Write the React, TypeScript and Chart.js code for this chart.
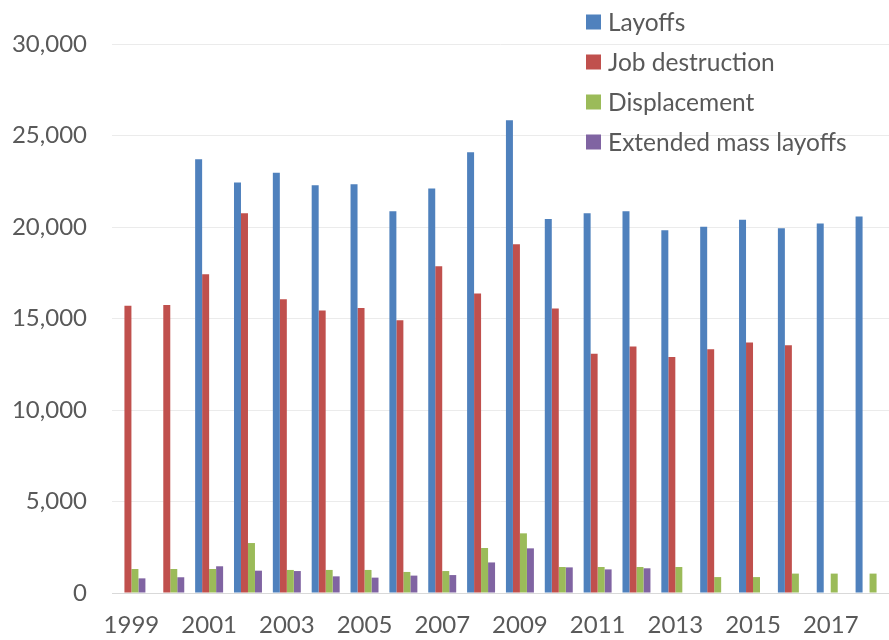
import React, { useEffect, useRef } from "react";
import { Chart, registerables } from "chart.js";

Chart.register(...registerables);

const years = ["1999", "2000", "2001", "2002", "2003", "2004", "2005", "2006", "2007", "2008", "2009", "2010", "2011", "2012", "2013", "2014", "2015", "2016", "2017", "2018"];
const layoffs = [null, null, 23700, 22430, 22970, 22280, 22330, 20860, 22100, 24080, 25830, 20440, 20750, 20860, 19820, 20020, 20400, 19930, 20190, 20570];
const jobDestruction = [15690, 15740, 17420, 20750, 16050, 15440, 15580, 14910, 17850, 16360, 19060, 15540, 13070, 13470, 12890, 13320, 13690, 13540, null, null];
const displacement = [1310, 1310, 1310, 2730, 1260, 1260, 1260, 1150, 1200, 2460, 3260, 1420, 1420, 1420, 1420, 870, 870, 1060, 1060, 1060];
const extendedMassLayoffs = [800, 860, 1460, 1220, 1200, 910, 840, 950, 980, 1670, 2440, 1400, 1290, 1350, null, null, null, null, null, null];
const seriesNames = ["Layoffs", "Job destruction", "Displacement", "Extended mass layoffs"];
const seriesColors = ["#4F81BD", "#C0504D", "#9BBB59", "#8064A2"];

const FONT = "Lato, 'Open Sans', sans-serif";
const TEXT = "#595959";

const legendPlugin = {
  id: "customLegend",
  afterDraw(chart: any) {
    const ctx = chart.ctx;
    ctx.save();
    ctx.font = `24.5px ${FONT}`;
    ctx.textBaseline = "middle";
    ctx.textAlign = "left";
    chart.data.datasets.forEach((ds: any, i: number) => {
      const y = 22 + i * 40;
      ctx.fillStyle = ds.backgroundColor;
      ctx.fillRect(586, y - 7.5, 15, 15);
      ctx.fillStyle = TEXT;
      ctx.fillText(ds.label, 608, y + 1);
    });
    ctx.restore();
  },
};

export default function App() {
  const ref = useRef<HTMLCanvasElement>(null);
  useEffect(() => {
    const seriesData = [layoffs, jobDestruction, displacement, extendedMassLayoffs];
    const chart = new Chart(ref.current!, {
      type: "bar",
      data: {
        labels: years,
        datasets: seriesData.map((d, i) => ({
          label: seriesNames[i],
          data: d,
          backgroundColor: seriesColors[i],
          borderWidth: 0,
          barPercentage: 1,
          categoryPercentage: 0.72,
        })),
      },
      options: {
        animation: false,
        responsive: false,
        layout: { padding: { left: 0, right: 0, top: 44, bottom: 0 } },
        plugins: { legend: { display: false }, tooltip: { enabled: false } },
        scales: {
          x: {
            grid: { display: false, drawTicks: false },
            border: { display: true, color: "#D9D9D9", width: 1 },
            afterFit: (scale: any) => {
              scale.height = 47;
            },
            ticks: {
              autoSkip: false,
              maxRotation: 0,
              padding: 18,
              color: TEXT,
              font: { family: FONT, size: 24 },
              callback: (_v: any, idx: number) => (idx % 2 === 0 ? years[idx] : ""),
            },
          },
          y: {
            min: 0,
            max: 30000,
            grid: { color: "#EBEBEB", drawTicks: false },
            border: { display: false },
            afterFit: (scale: any) => {
              scale.width = 112;
            },
            ticks: {
              stepSize: 5000,
              padding: 25,
              color: TEXT,
              font: { family: FONT, size: 24 },
              callback: (v: any) => Number(v).toLocaleString("en-US"),
            },
          },
        },
      },
      plugins: [legendPlugin],
    });
    return () => chart.destroy();
  }, []);
  return (
    <div style={{ position: "fixed", left: 0, top: 0, width: 889, height: 640, background: "#fff" }}>
      <canvas ref={ref} width={889} height={640} />
    </div>
  );
}
